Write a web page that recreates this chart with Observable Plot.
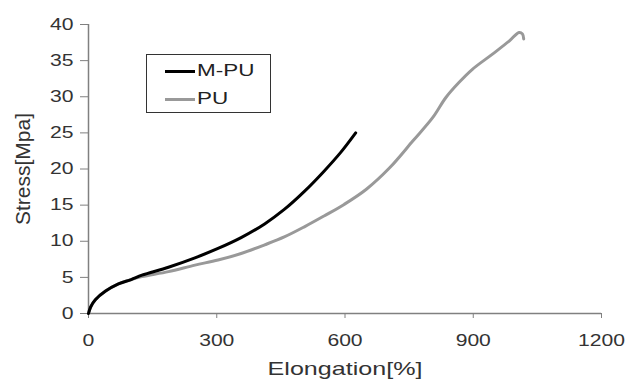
<!DOCTYPE html>
<html>
<head>
<meta charset="utf-8">
<script src="https://cdn.jsdelivr.net/npm/d3@7"></script>
<script src="https://cdn.jsdelivr.net/npm/@observablehq/plot@0.6"></script>
<style>
  html, body { margin: 0; padding: 0; background: #fff; }
  #wrap { position: relative; width: 630px; height: 381px; font-family: "Liberation Sans", Arial, sans-serif; }
  #legend { position: absolute; left: 146px; top: 54px; width: 125px; height: 59px; box-sizing: border-box; border: 1.5px solid #333; background: #fff; }
  .item { position: absolute; left: 18px; height: 20px; display: flex; align-items: center; }
  .sw { display: inline-block; width: 30px; height: 3px; margin-right: 2px; }
  .lab { display: inline-block; font-size: 17px; color: #222; transform: scaleX(1.32); transform-origin: left center; }
</style>
</head>
<body>
<div id="wrap"></div>
<script>
const xTicks = [0, 300, 600, 900, 1200];
const yTicks = [0, 5, 10, 15, 20, 25, 30, 35, 40];
const seriesNames = ["M-PU", "PU"];
const seriesColors = ["#000000", "#999999"];

const mpuElong  = [0, 5, 16, 40, 70, 100, 125, 187, 249, 303, 357, 412, 458, 505, 551, 590, 625];
const mpuStress = [0, 0.9, 1.9, 3.1, 4.1, 4.7, 5.3, 6.4, 7.7, 9.0, 10.5, 12.4, 14.4, 16.9, 19.7, 22.3, 25.0];

const puElong  = [0, 5, 16, 40, 70, 100, 125, 187, 249, 303, 357, 412, 458, 505, 551, 598, 650, 705, 759, 805, 836, 867, 898, 945, 984, 1007, 1015, 1018];
const puStress = [0, 0.9, 1.9, 3.1, 4.1, 4.7, 5.1, 5.8, 6.7, 7.4, 8.3, 9.5, 10.6, 12.0, 13.5, 15.1, 17.2, 20.2, 23.9, 27.1, 29.9, 32.0, 33.8, 35.9, 37.7, 38.9, 38.7, 38.0];

const mpu = mpuElong.map((e, i) => ({e, s: mpuStress[i]}));
const pu = puElong.map((e, i) => ({e, s: puStress[i]}));

const chart = Plot.plot({
  width: 630,
  height: 381,
  marginLeft: 88,
  marginRight: 29,
  marginTop: 24,
  marginBottom: 68,
  style: {fontFamily: "'Liberation Sans', Arial, sans-serif", background: "#fff"},
  x: {domain: [0, 1200]},
  y: {domain: [0, 40]},
  marks: [
    Plot.axisX(xTicks, {tickSize: 5, tickPadding: 16, fontSize: 16, tickFormat: d3.format("d"), stroke: "#808080", fill: "#333", label: null}),
    Plot.axisY(yTicks, {tickSize: 8, tickPadding: 7, fontSize: 16, tickFormat: d3.format("d"), stroke: "#808080", fill: "#333", label: null}),
    Plot.ruleY([0], {stroke: "#808080", strokeWidth: 1.5}),
    Plot.ruleX([0], {stroke: "#808080", strokeWidth: 1.5}),
    Plot.line(pu, {x: "e", y: "s", stroke: seriesColors[1], strokeWidth: 3, curve: "catmull-rom"}),
    Plot.line(mpu, {x: "e", y: "s", stroke: seriesColors[0], strokeWidth: 3, curve: "catmull-rom"}),
    Plot.text(["Elongation[%]"], {frameAnchor: "bottom", dy: 55, lineAnchor: "middle", fontSize: 19, fill: "#333"}),
    Plot.text(["Stress[Mpa]"], {frameAnchor: "left", dx: -65, rotate: -90, lineAnchor: "middle", textAnchor: "middle", fontSize: 21, fill: "#333"})
  ]
});

const wrap = document.getElementById("wrap");
wrap.appendChild(chart);

// horizontally stretched lettering, as in the reference
chart.querySelectorAll("text").forEach(t => {
  const tr = t.getAttribute("transform") || "";
  if (tr.includes("rotate")) return;
  const L = t.getComputedTextLength();
  if (L > 0) {
    t.setAttribute("textLength", (L * 1.32).toFixed(1));
    t.setAttribute("lengthAdjust", "spacingAndGlyphs");
  }
});

// legend
const legend = document.createElement("div");
legend.id = "legend";
seriesNames.forEach((name, i) => {
  const item = document.createElement("div");
  item.className = "item";
  item.style.top = (6 + i * 28) + "px";
  const sw = document.createElement("span");
  sw.className = "sw";
  sw.style.background = seriesColors[i];
  const lab = document.createElement("span");
  lab.className = "lab";
  lab.textContent = name;
  item.appendChild(sw);
  item.appendChild(lab);
  legend.appendChild(item);
});
wrap.appendChild(legend);
</script>
</body>
</html>
